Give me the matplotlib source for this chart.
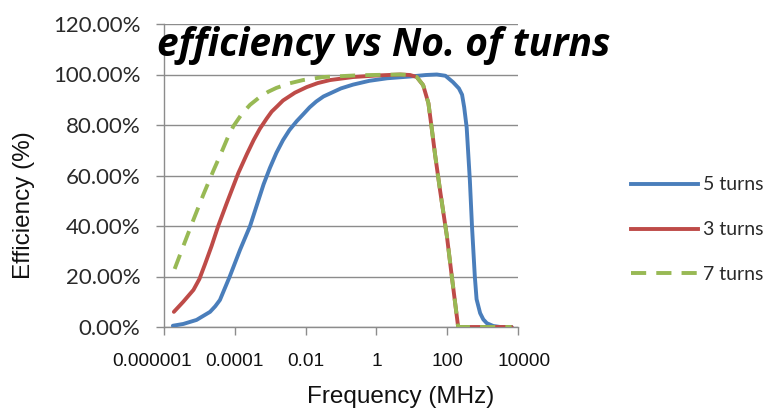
import matplotlib
matplotlib.use("Agg")
import matplotlib.pyplot as plt
from matplotlib.lines import Line2D
from matplotlib.transforms import ScaledTranslation

# Frequency in MHz, efficiency in percent
freq_5 = [1.78e-6, 3.5e-6, 8.3e-6, 2.0e-5, 2.8e-5, 3.8e-5, 7.2e-5, 1.4e-4, 2.7e-4,
          4.6e-4, 6.5e-4, 9.8e-4, 1.5e-3, 2.3e-3, 3.5e-3, 5.6e-3, 8.9e-3, 1.3e-2,
          2.0e-2, 3.2e-2, 0.1, 0.22, 0.63, 2, 8.9, 25, 51, 89, 145, 214, 263, 302,
          355, 437, 501, 603, 676, 851, 1047, 1318, 1995, 3162, 6607]
eff_5 = [0.5, 1.2, 2.8, 6, 8.2, 10.7, 20, 30.5, 40, 50, 56.5, 63, 69, 74, 78, 81.5,
         84.5, 87, 89.3, 91.3, 94.5, 96, 97.5, 98.5, 99.2, 99.8, 100, 99.5, 97, 94.5,
         92, 87, 79, 58, 40, 20, 11, 5.5, 3, 1.5, 0.4, 0, 0]

freq_3 = [1.9e-6, 3.5e-6, 6.8e-6, 1.0e-5, 1.45e-5, 2.2e-5, 3.4e-5, 5.9e-5, 8.9e-5,
          1.26e-4, 2.2e-4, 3.4e-4, 5.1e-4, 7.9e-4, 1.1e-3, 1.6e-3, 2.3e-3, 5.0e-3,
          1.07e-2, 2.2e-2, 4.9e-2, 0.22, 1, 4.7, 8.9, 13.8, 20.9, 29.5, 36.3, 45.7,
          63, 98, 135, 204, 6607]
eff_3 = [6, 10, 14.7, 19, 25, 32, 40, 49, 55.5, 61, 68.5, 74, 78.5, 82.5, 85.3, 87.5,
         89.7, 92.8, 95, 96.6, 97.8, 99, 99.6, 100, 99.8, 99, 95.8, 88.6, 79, 68, 54,
         36, 20, 0, 0]

freq_7 = [2.0e-6, 3.5e-6, 6.8e-6, 1.3e-5, 2.5e-5, 4.3e-5, 6.3e-5, 9.1e-5, 1.6e-4,
          2.7e-4, 5.0e-4, 8.9e-4, 1.5e-3, 3.5e-3, 8.5e-3, 3.2e-2, 0.32, 4.7, 8.9,
          13.8, 20.9, 29.5, 36.3, 45.7, 63, 98, 135, 204, 6607]
eff_7 = [23, 32, 42.5, 52.5, 62, 69.5, 75, 79.5, 84.5, 88, 91, 93.2, 94.7, 96.5, 97.8,
         99, 99.7, 100, 99.8, 99, 95.8, 88.6, 79, 68, 54, 36, 20, 0, 0]

x_ticks = [1e-6, 1e-4, 1e-2, 1, 100, 1e4]
x_tick_labels = ["0.000001", "0.0001", "0.01", "1", "100", "10000"]
y_ticks = [0, 20, 40, 60, 80, 100, 120]
y_tick_labels = ["0.00%", "20.00%", "40.00%", "60.00%", "80.00%", "100.00%", "120.00%"]
series_labels = ["5 turns", "3 turns", "7 turns"]

BLUE = "#4A7EBB"
RED = "#BE4B48"
GREEN = "#98B954"
GRID = "#8C8C8C"
CAL = "Lato"
ARIAL = "Liberation Sans"
DASH = (3.9, 2.6)

W, H = 773, 412
fig = plt.figure(figsize=(W / 100, H / 100), dpi=100)
ax = fig.add_axes([164 / W, 1 - 327 / H, (518 - 164) / W, (327 - 24) / H])

ax.set_xscale("log")
ax.set_xlim(1e-6, 1e4)
ax.set_ylim(0, 120)

lw = 2.8
ax.plot(freq_5, eff_5, color=BLUE, lw=lw, solid_capstyle="round", solid_joinstyle="round", zorder=3)
ax.plot(freq_3, eff_3, color=RED, lw=lw, solid_capstyle="round", solid_joinstyle="round", zorder=4)
ax.plot(freq_7, eff_7, color=GREEN, lw=lw, dashes=DASH, dash_capstyle="butt",
        dash_joinstyle="round", zorder=5)

# gridlines and axes
ax.set_yticks(y_ticks)
ax.set_yticklabels(y_tick_labels, fontfamily=CAL, fontsize=16, color="#2a2a2a")
ax.yaxis.grid(True, color=GRID, lw=1.0)
ax.set_axisbelow(True)
ax.tick_params(axis="y", direction="out", length=6, width=1.0, color=GRID, pad=11)
ax.xaxis.set_major_locator(matplotlib.ticker.FixedLocator(x_ticks))
ax.xaxis.set_minor_locator(matplotlib.ticker.NullLocator())
ax.set_xticklabels([""] * len(x_ticks))
ax.tick_params(axis="x", direction="out", length=6, width=1.0, color=GRID)
for s in ("top", "right"):
    ax.spines[s].set_visible(False)
for s in ("left", "bottom"):
    ax.spines[s].set_color(GRID)
    ax.spines[s].set_linewidth(1.0)

# x tick labels, end labels nudged outward
nudges = {0: -12, len(x_ticks) - 1: 6}
for i, (v, t) in enumerate(zip(x_ticks, x_tick_labels)):
    dx = nudges.get(i, 0) / 100
    tr = ax.get_xaxis_transform() + ScaledTranslation(dx, -35 / 100, fig.dpi_scale_trans)
    ax.text(v, 0, t, transform=tr, ha="center", va="center",
            fontfamily=ARIAL, fontsize=13.7, color="#111111")

fig.text(401 / W, 1 - 397 / H, "Frequency (MHz)", ha="center", va="center",
         fontfamily=ARIAL, fontsize=17.5, color="#111111")
fig.text(24 / W, 1 - 205 / H, "Efficiency (%)", ha="center", va="center",
         rotation=90, fontfamily=ARIAL, fontsize=17.5, color="#111111")

fig.text(384 / W, 1 - 56 / H, "efficiency vs No. of turns", ha="center",
         va="baseline", fontfamily="Open Sans", fontweight="bold", fontstyle="italic",
         fontsize=28, color="black")

handles = [
    Line2D([], [], color=BLUE, lw=lw),
    Line2D([], [], color=RED, lw=lw),
    Line2D([], [], color=GREEN, lw=lw, dashes=DASH),
]
leg = fig.legend(handles, series_labels, loc="upper left",
                 bbox_to_anchor=(613 / W, 1 - 159 / H), frameon=False,
                 handlelength=3.45, handletextpad=0.3, labelspacing=1.43,
                 prop={"family": CAL, "size": 14})
for t in leg.get_texts():
    t.set_color("#2a2a2a")

fig.savefig("out.png", dpi=100)
